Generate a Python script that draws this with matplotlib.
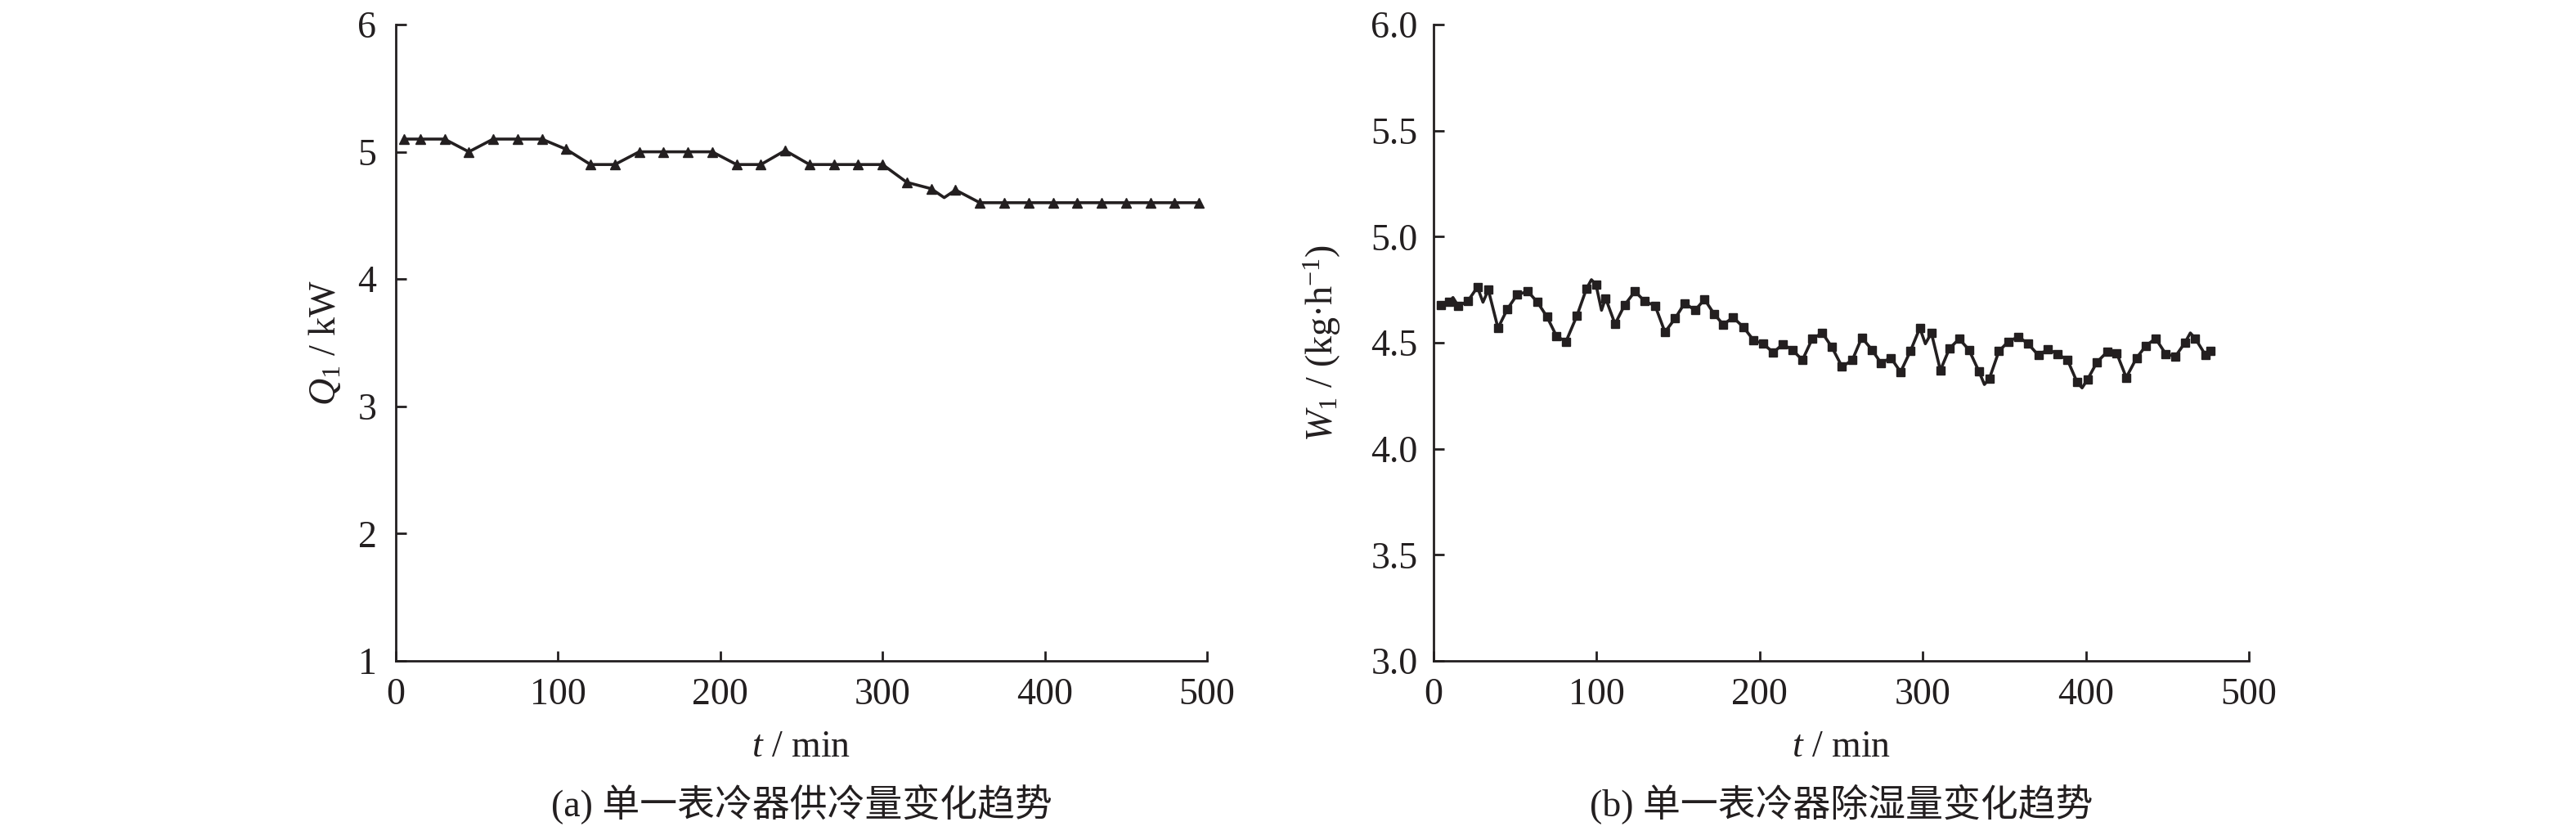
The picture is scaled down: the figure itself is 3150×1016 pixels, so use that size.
import matplotlib
matplotlib.use("Agg")
import matplotlib.pyplot as plt

# ---------------- data ----------------
# (a) cooling supply Q1 (kW) vs time (min)
t_q = [5, 15, 30, 45, 60, 75, 90, 105, 120, 135, 150, 165, 180, 195, 210, 225,
       240, 255, 270, 285, 300, 315, 330, 338, 345, 360, 375, 390, 405, 420,
       435, 450, 465, 480, 495]
q_vals = [5.10, 5.10, 5.10, 5.00, 5.10, 5.10, 5.10, 5.02, 4.90, 4.90, 5.00,
          5.00, 5.00, 5.00, 4.90, 4.90, 5.01, 4.90, 4.90, 4.90, 4.90, 4.76,
          4.71, 4.64, 4.70, 4.60, 4.60, 4.60, 4.60, 4.60, 4.60, 4.60, 4.60,
          4.60, 4.60]
q_unmarked = [23]

# (b) dehumidification W1 (kg/h) vs time (min)
t_w = [4.3, 9.4, 11.9, 15.2, 21.1, 26.9, 30.3, 33.6, 39.5, 45.3, 51.2, 57.8,
       63.7, 69.5, 75.4, 81.2, 87.9, 93.8, 96.8, 99.6, 103.0, 105.5, 111.3,
       117.2, 123.5, 129.5, 135.9, 141.9, 148.1, 154.0, 160.3, 166.2, 172.0,
       177.7, 183.6, 190.2, 196.2, 202.1, 208.3, 214.1, 220.0, 226.2, 232.2,
       238.4, 244.2, 250.5, 256.8, 262.6, 268.8, 274.3, 280.5, 286.4, 292.4,
       298.2, 301.6, 305.3, 310.8, 316.4, 322.3, 328.3, 334.5, 337.8, 340.9,
       346.7, 352.4, 358.7, 364.6, 370.9, 376.8, 382.7, 388.8, 394.7, 397.7,
       401.0, 406.9, 413.1, 418.9, 424.8, 431.1, 436.9, 442.8, 449.0, 454.9,
       460.7, 464.1, 467.1, 473.3, 476.3]
w_vals = [4.678, 4.691, 4.713, 4.672, 4.697, 4.762, 4.691, 4.749, 4.569, 4.659,
          4.726, 4.742, 4.691, 4.623, 4.531, 4.505, 4.627, 4.755, 4.797, 4.774,
          4.653, 4.710, 4.588, 4.678, 4.742, 4.695, 4.674, 4.550, 4.614, 4.687,
          4.653, 4.704, 4.636, 4.585, 4.620, 4.572, 4.512, 4.495, 4.454, 4.492,
          4.467, 4.418, 4.518, 4.546, 4.480, 4.387, 4.418, 4.524, 4.467, 4.405,
          4.428, 4.362, 4.460, 4.569, 4.495, 4.546, 4.370, 4.473, 4.518, 4.467,
          4.364, 4.303, 4.332, 4.460, 4.505, 4.528, 4.495, 4.441, 4.469, 4.447,
          4.418, 4.313, 4.287, 4.326, 4.409, 4.457, 4.451, 4.336, 4.428, 4.486,
          4.520, 4.447, 4.435, 4.499, 4.546, 4.520, 4.443, 4.460]
w_unmarked = [2, 6, 18, 20, 54, 61, 72, 84]

x_ticks = [0, 100, 200, 300, 400, 500]
q_ticks = [1, 2, 3, 4, 5, 6]
w_ticks = [3.0, 3.5, 4.0, 4.5, 5.0, 5.5, 6.0]

xlabel = "$t$ / min"
q_label = "$Q_1$ / kW"
w_label = "$W_1$ / (kg·h$^{-1}$)"
cap_a = "(a) 单一表冷器供冷量变化趋势"
cap_b = "(b) 单一表冷器除湿量变化趋势"

# ---------------- style ----------------
plt.rcParams['font.family'] = ['Liberation Serif', 'Noto Sans CJK SC', 'DejaVu Sans']
plt.rcParams['mathtext.fontset'] = 'custom'
plt.rcParams['mathtext.rm'] = 'Liberation Serif'
plt.rcParams['mathtext.it'] = 'Liberation Serif:italic'
plt.rcParams['mathtext.bf'] = 'Liberation Serif:bold'

FS = 33
INK = '#231f20'

fig = plt.figure(figsize=(31.5, 10.16), dpi=100)
W, H = 3150, 1016
ax1 = fig.add_axes([484 / W, 1 - 808 / H, (1476 - 484) / W, (808 - 30) / H])
ax2 = fig.add_axes([1753 / W, 1 - 808 / H, (2750 - 1753) / W, (808 - 30) / H])


def style(ax):
    for s in ['top', 'right']:
        ax.spines[s].set_visible(False)
    for s in ['left', 'bottom']:
        ax.spines[s].set_linewidth(2.0)
        ax.spines[s].set_color(INK)
    ax.tick_params(direction='in', length=9, width=2.0, colors=INK,
                   labelsize=FS, labelcolor=INK)
    ax.tick_params(axis='x', pad=15)
    ax.set_xlim(0, 500)
    ax.set_xticks(x_ticks)
    ax.set_xticklabels([str(v) for v in x_ticks])
    ax.set_xlabel(xlabel, fontsize=FS, color=INK)
    ax.xaxis.label.set_va('center')
    ax.xaxis.set_label_coords(0.5, -(914 - 808) / 778)


style(ax1)
style(ax2)

# (a)
mk_q = [i for i in range(len(t_q)) if i not in q_unmarked]
ax1.plot(t_q, q_vals, color=INK, lw=2.6, marker='^', ms=9,
         markevery=mk_q, mfc=INK, mec=INK, clip_on=False)
ax1.set_ylim(1, 6)
ax1.set_yticks(q_ticks)
ax1.set_yticklabels([str(v) for v in q_ticks])
ax1.tick_params(axis='y', pad=17)
ax1.set_ylabel(q_label, fontsize=FS, color=INK, va='center')
ax1.yaxis.set_label_coords((398 - 484) / 992, 0.5)
ax1.text(0.5, -(984 - 808) / 778, cap_a, transform=ax1.transAxes,
         ha='center', va='center', fontsize=FS, color=INK)

# (b)
mk_w = [i for i in range(len(t_w)) if i not in w_unmarked]
ax2.plot(t_w, w_vals, color=INK, lw=2.6, marker='s', ms=7.5,
         markevery=mk_w, mfc=INK, mec=INK, clip_on=False)
ax2.set_ylim(3.0, 6.0)
ax2.set_yticks(w_ticks)
ax2.set_yticklabels([f"{v:.1f}" for v in w_ticks])
ax2.tick_params(axis='y', pad=14)
ax2.set_ylabel(w_label, fontsize=FS, color=INK, va='center')
ax2.yaxis.set_label_coords((1617 - 1753) / 997, 0.5)
ax2.text(0.5, -(984 - 808) / 778, cap_b, transform=ax2.transAxes,
         ha='center', va='center', fontsize=FS, color=INK)

fig.savefig("out.png", dpi=100, facecolor='white')
